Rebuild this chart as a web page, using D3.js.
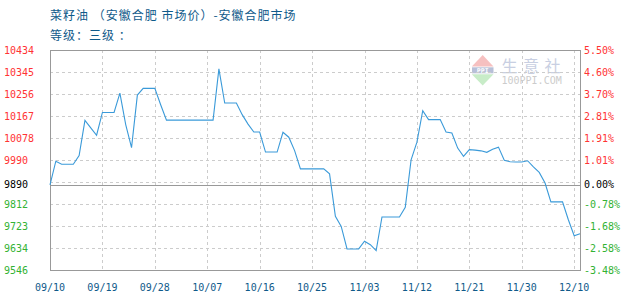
<!DOCTYPE html>
<html><head><meta charset="utf-8">
<script src="https://cdn.jsdelivr.net/npm/d3@7/dist/d3.min.js"></script>
<style>body{margin:0;background:#fff}svg{display:block}</style>
</head><body><svg id="c" width="630" height="300"></svg>
<script>
const titleLine1 = "菜籽油 （安徽合肥 市场价）-安徽合肥市场";
const titleLine2 = "等级：三级 ：";
const baseValue = 9890;
const values = [
 9890, 9985, 9973, 9973, 9973, 10008, 10150, 10120, 10090, 10182,
 10182, 10182, 10260, 10133, 10040, 10252, 10279, 10279, 10279, 10213,
 10151, 10151, 10151, 10151, 10151, 10151, 10151, 10151, 10151, 10358,
 10220, 10220, 10220, 10173, 10135, 10103, 10103, 10022, 10022, 10022,
 10102, 10082, 10028, 9954, 9954, 9954, 9954, 9954, 9934, 9763,
 9722, 9631, 9631, 9631, 9662, 9648, 9624, 9760, 9760, 9760,
 9760, 9799, 9991, 10062, 10189, 10153, 10153, 10153, 10103, 10099,
 10038, 10005, 10032, 10030, 10027, 10021, 10033, 10042, 9989, 9983,
 9982, 9982, 9987, 9962, 9940, 9897, 9821, 9821, 9821, 9749,
 9684, 9692
];
const xTickIndex = [0, 9, 18, 27, 36, 45, 54, 63, 72, 81, 90];
const xTickLabels = ["09/10","09/19","09/28","10/07","10/16","10/25","11/03","11/12","11/21","11/30","12/10"];
const yTickValues = [10434, 10345, 10256, 10167, 10078, 9990, 9890, 9812, 9723, 9634, 9546];
const yPctLabels = ["5.50%","4.60%","3.70%","2.81%","1.91%","1.01%","0.00%","-0.78%","-1.68%","-2.58%","-3.48%"];

const svg = d3.select("#c");
const L = 50, R = 580, T = 50, B = 270;
const x = d3.scaleLinear().domain([0, values.length - 1]).range([L, R]);
const y = d3.scaleLinear().domain([9546, 10434]).range([B, T]);
const colorFor = v => v > baseValue ? "#ff3333" : (v < baseValue ? "#33b233" : "#000");
const titleColor = "#0f5a8a";

svg.append("rect").attr("width", 630).attr("height", 300).attr("fill", "#fff");

// title
svg.append("text").attr("x", 50).attr("y", 20).attr("fill", titleColor).attr("letter-spacing", 1)
  .attr("font-family", "'Noto Sans CJK SC', sans-serif").attr("font-size", 12).text(titleLine1);
svg.append("text").attr("x", 50).attr("y", 39.5).attr("fill", titleColor).attr("letter-spacing", 1)
  .attr("font-family", "'Noto Sans CJK SC', sans-serif").attr("font-size", 12).text(titleLine2);

// watermark
const wm = svg.append("g");
wm.append("path").attr("d", "M482.7,55 L493.5,66.5 L471.8,66.5 Z").attr("fill", "#f6c0c0");
wm.append("rect").attr("x", 472).attr("y", 67.3).attr("width", 21.5).attr("height", 6).attr("fill", "#b8c0d8");
wm.append("text").attr("x", 482.7).attr("y", 72.8).attr("text-anchor", "middle").attr("fill", "#fff")
  .attr("font-family", "DejaVu Sans Mono").attr("font-weight", "bold").attr("font-size", 6.5).text("PPI");
wm.append("path").attr("d", "M471.8,74.3 L493.5,74.3 L482.7,85.5 Z").attr("fill", "#c8ecc8");
wm.append("text").attr("x", 501.5).attr("y", 71.5).attr("fill", "#c8cfe2")
  .attr("font-family", "'Noto Sans CJK SC', sans-serif").attr("font-size", 16).attr("letter-spacing", 5.5).text("生意社");
wm.append("text").attr("x", 501.5).attr("y", 84.2).attr("fill", "#cccccc")
  .attr("font-family", "'DejaVu Sans Mono', monospace").attr("font-size", 10).text("100PPI.COM");

// grid
const grid = svg.append("g").attr("stroke", "#cccccc").attr("stroke-dasharray", "3,3")
  .attr("shape-rendering", "crispEdges");
d3.range(1, 10).forEach(k => {
  const gy = Math.round(y(9546 + k * (10434 - 9546) / 10)) + 0.5;
  grid.append("line").attr("x1", L).attr("x2", R).attr("y1", gy).attr("y2", gy);
});
xTickIndex.forEach((t, i) => {
  if (i === 0) return;
  const gx = Math.round(x(t)) + 0.5;
  grid.append("line").attr("x1", gx).attr("x2", gx).attr("y1", T).attr("y2", B);
});

// baseline
const by = Math.round(y(baseValue)) + 0.5;
svg.append("line").attr("x1", L).attr("x2", R).attr("y1", by).attr("y2", by)
  .attr("stroke", "#999").attr("shape-rendering", "crispEdges");

// border
svg.append("rect").attr("x", L + 0.5).attr("y", T + 0.5).attr("width", R - L).attr("height", B - T)
  .attr("fill", "none").attr("stroke", "#999").attr("shape-rendering", "crispEdges");

// line
const line = d3.line().x((d, i) => x(i)).y(d => y(d));
svg.append("path").datum(values).attr("d", line).attr("fill", "none")
  .attr("stroke", "#3a9ad9").attr("stroke-width", 1.1);

// y labels
yTickValues.forEach((v, i) => {
  const ty = i === 6 ? y(baseValue) : y(10434 - i * (10434 - 9546) / 10);
  svg.append("text").attr("x", 4).attr("y", ty).attr("dy", "0.35em")
    .attr("fill", colorFor(v)).attr("font-family", "'DejaVu Sans Mono', monospace").attr("font-size", 10)
    .text(String(v));
  svg.append("text").attr("x", 584).attr("y", ty).attr("dy", "0.35em")
    .attr("fill", colorFor(v)).attr("font-family", "'DejaVu Sans Mono', monospace").attr("font-size", 10)
    .text(yPctLabels[i]);
});

// x labels
xTickIndex.forEach((t, i) => {
  svg.append("text").attr("x", x(t)).attr("y", 291).attr("text-anchor", "middle")
    .attr("fill", titleColor).attr("font-family", "'DejaVu Sans Mono', monospace").attr("font-size", 10)
    .text(xTickLabels[i]);
});
</script>
</body></html>
